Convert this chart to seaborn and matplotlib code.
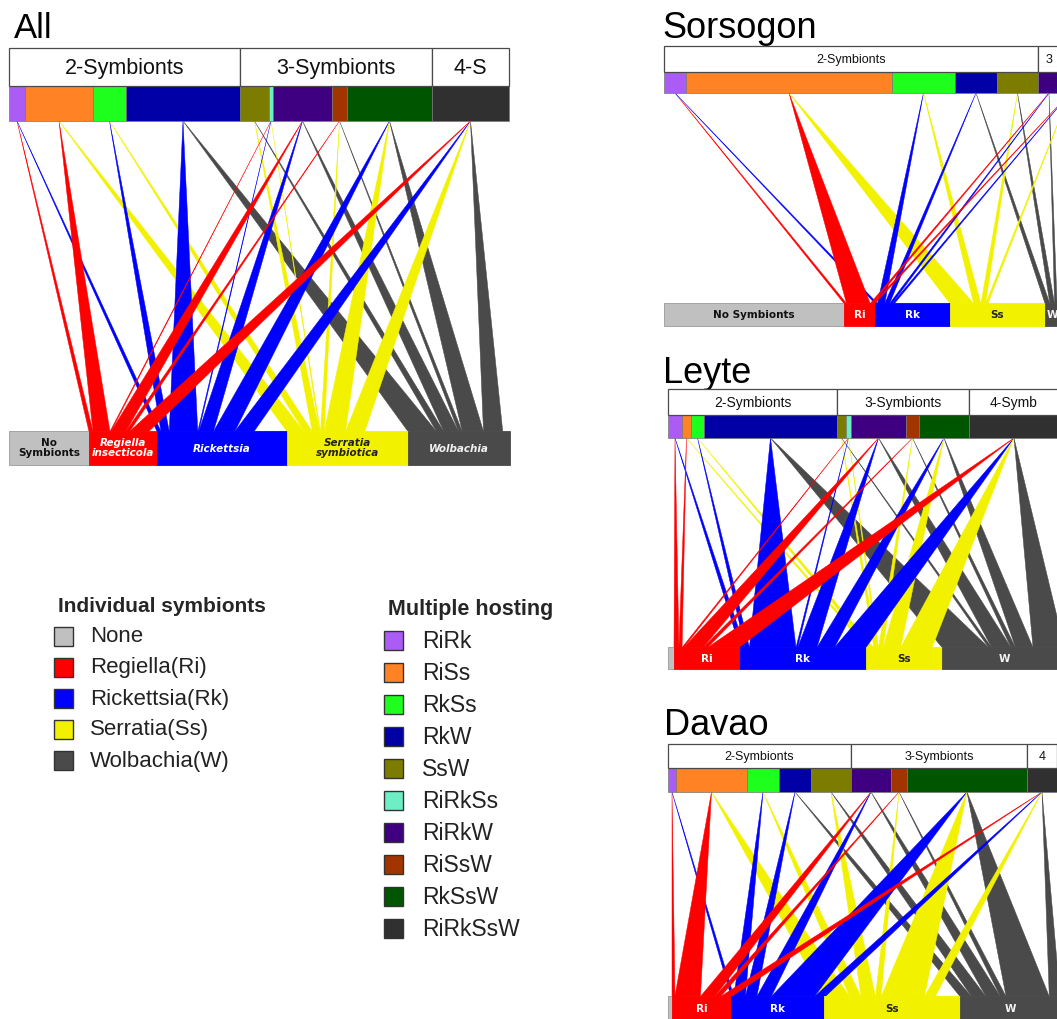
import re
import matplotlib
matplotlib.use("Agg")
import matplotlib.pyplot as plt
from matplotlib.patches import Rectangle, Polygon
import seaborn as sns

sns.set_theme(style="white")
plt.rcParams['font.family'] = ['Liberation Sans', 'DejaVu Sans']

# ---------------- data ----------------
combo_names = ["RiRk", "RiSs", "RkSs", "RkW", "SsW", "RiRkSs", "RiRkW", "RiSsW", "RkSsW", "RiRkSsW"]
single_names = ["None", "Ri", "Rk", "Ss", "W"]
single_legend_labels = ["None", "Regiella(Ri)", "Rickettsia(Rk)", "Serratia(Ss)", "Wolbachia(W)"]

all_combo = [16, 68, 33, 114, 29, 4, 59, 15, 85, 77]
all_single = [80, 68, 130, 121, 102]
sorsogon_combo = [22, 206, 63, 42, 41, 0, 22, 0, 0, 20]
sorsogon_single = [180, 31, 75, 95, 15]
leyte_combo = [14, 9, 13, 133, 9, 5, 55, 13, 50, 90]
leyte_single = [6, 66, 126, 76, 125]
davao_combo = [8, 71, 32, 32, 40, 0, 40, 16, 120, 30]
davao_single = [4, 59, 93, 136, 100]

all_groups = ["2-Symbionts", "3-Symbionts", "4-S"]
sorsogon_groups = ["2-Symbionts", "3", "4"]
leyte_groups = ["2-Symbionts", "3-Symbionts", "4-Symb"]
davao_groups = ["2-Symbionts", "3-Symbionts", "4"]

all_group_sizes = [4, 5, 1]
sorsogon_group_sizes = [5, 4, 1]
leyte_group_sizes = [4, 5, 1]
davao_group_sizes = [5, 4, 1]

all_bottom_labels = ["No\nSymbionts", "Regiella\ninsecticola", "Rickettsia", "Serratia\nsymbiotica", "Wolbachia"]
short_bottom_labels = ["No Symbionts", "Ri", "Rk", "Ss", "W"]

# ---------------- styles ----------------
single_colors = dict(zip(single_names, sns.color_palette(
    ["#C0C0C0", "#FF0000", "#0000FF", "#F2F200", "#4A4A4A"])))
combo_colors = dict(zip(combo_names, sns.color_palette(
    ["#AA5CF5", "#FF8225", "#1EFF1E", "#0000A6", "#7C7C00",
     "#6EEEC4", "#3E0080", "#A23400", "#005500", "#303030"])))
label_colors = {"None": "#111111", "Ri": "white", "Rk": "white", "Ss": "#222222", "W": "#F2F2F2"}

W_PX, H_PX = 1057, 1019
fig = plt.figure(figsize=(W_PX / 100, H_PX / 100), dpi=100)
ax = fig.add_axes([0, 0, 1, 1])
ax.set_xlim(0, W_PX)
ax.set_ylim(H_PX, 0)
ax.axis("off")


def members(name):
    return re.findall(r"[A-Z][a-z]*", name)


def draw_panel(combo, single, groups, group_sizes, bottom_labels, geo):
    x0 = geo["x0"]
    ht, ct, cb, bt, bb = geo["header_top"], geo["combo_top"], geo["combo_bot"], geo["bar_top"], geo["bar_bot"]
    k = geo["k"]
    # title
    ax.text(geo["title_x"], geo["title_y"], geo["title"], fontsize=geo["title_fs"],
            ha="left", va="baseline", color="black")
    # combo bar
    lefts = []
    x = x0
    for name, v in zip(combo_names, combo):
        lefts.append(x)
        if v > 0:
            ax.add_patch(Rectangle((x, ct), v, cb - ct, facecolor=combo_colors[name],
                                   edgecolor="#777777", lw=0.5, zorder=3))
        x += v
    # header boxes
    i = 0
    for lab, n in zip(groups, group_sizes):
        gl = lefts[i]
        gw = sum(combo[i:i + n])
        if gw > 0:
            ax.add_patch(Rectangle((gl, ht), gw, ct - ht, facecolor="white",
                                   edgecolor="#4A4A4A", lw=0.9, zorder=3))
            ax.text(gl + gw / 2, (ht + ct) / 2 + 1, lab, fontsize=geo["header_fs"],
                    ha="center", va="center", color="#111111", zorder=4)
        i += n
    # bottom bar
    seg_left = {}
    x = x0
    for s, v in zip(single_names, single):
        seg_left[s] = x
        ax.add_patch(Rectangle((x, bt), v, bb - bt, facecolor=single_colors[s],
                               edgecolor="#9A9A9A" if s == "None" else single_colors[s],
                               lw=0.6, zorder=3))
        x += v
    # wedge bases
    bases = {}
    for s in single_names[1:]:
        cur = seg_left[s]
        for name, v in zip(combo_names, combo):
            if v > 0 and s in members(name):
                w = k * v
                bases[(name, s)] = (cur, cur + w)
                cur += w
    # wedges
    for ci, (name, v) in enumerate(zip(combo_names, combo)):
        if v <= 0:
            continue
        apex = lefts[ci] + v / 2
        for s in members(name):
            b0, b1 = bases[(name, s)]
            ax.add_patch(Polygon([(apex, cb), (b0, bt + 0.5), (b1, bt + 0.5)], closed=True,
                                 facecolor=single_colors[s], edgecolor=single_colors[s],
                                 lw=0.35, zorder=2))
    # bottom labels (only where the segment is wide enough)
    for s, v, lab in zip(single_names, single, bottom_labels):
        if v < 12:
            continue
        cx = seg_left[s] + v / 2
        style = "italic" if (geo["italic"] and s != "None") else "normal"
        ax.text(cx, (bt + bb) / 2 + 0.5, lab, fontsize=geo["label_fs"], fontweight="bold",
                fontstyle=style, family=["DejaVu Sans"], ha="center", va="center",
                color=label_colors[s], linespacing=1.0, zorder=4)


draw_panel(all_combo, all_single, all_groups, all_group_sizes, all_bottom_labels,
           dict(x0=9, header_top=48, combo_top=86, combo_bot=121, bar_top=431, bar_bot=465,
                k=0.25, title="All", title_x=14, title_y=38, title_fs=25,
                header_fs=15.5, label_fs=7.5, italic=True))
draw_panel(sorsogon_combo, sorsogon_single, sorsogon_groups, sorsogon_group_sizes, short_bottom_labels,
           dict(x0=664, header_top=46, combo_top=72, combo_bot=93, bar_top=303, bar_bot=326,
                k=0.115, title="Sorsogon", title_x=662, title_y=38, title_fs=26,
                header_fs=9, label_fs=7.5, italic=False))
draw_panel(leyte_combo, leyte_single, leyte_groups, leyte_group_sizes, short_bottom_labels,
           dict(x0=668, header_top=389, combo_top=415, combo_bot=438, bar_top=647, bar_bot=669,
                k=0.35, title="Leyte", title_x=663, title_y=383, title_fs=26,
                header_fs=10, label_fs=7.5, italic=False))
draw_panel(davao_combo, davao_single, davao_groups, davao_group_sizes, short_bottom_labels,
           dict(x0=668, header_top=744, combo_top=768, combo_bot=792, bar_top=996, bar_bot=1021,
                k=0.36, title="Davao", title_x=664, title_y=735, title_fs=26,
                header_fs=9, label_fs=7.5, italic=False))

# ---------------- legends ----------------
ax.text(58, 606, "Individual symbionts", fontsize=15, fontweight="bold", ha="left", va="center")
for i, (s, lab) in enumerate(zip(single_names, single_legend_labels)):
    yc = 637 + i * 31
    ax.add_patch(Rectangle((54, yc - 10), 19, 19, facecolor=single_colors[s],
                           edgecolor="#333333", lw=1.0, zorder=3))
    ax.text(90, yc, lab, fontsize=16, ha="left", va="center", color="#222222")

ax.text(388, 609, "Multiple hosting", fontsize=15.5, fontweight="bold", ha="left", va="center")
for i, name in enumerate(combo_names):
    yc = 641 + i * 32
    ax.add_patch(Rectangle((384, yc - 10), 19, 19, facecolor=combo_colors[name],
                           edgecolor="#333333", lw=1.0, zorder=3))
    ax.text(422, yc, name, fontsize=16.5, ha="left", va="center", color="#222222")

fig.savefig("out.png", dpi=100)
